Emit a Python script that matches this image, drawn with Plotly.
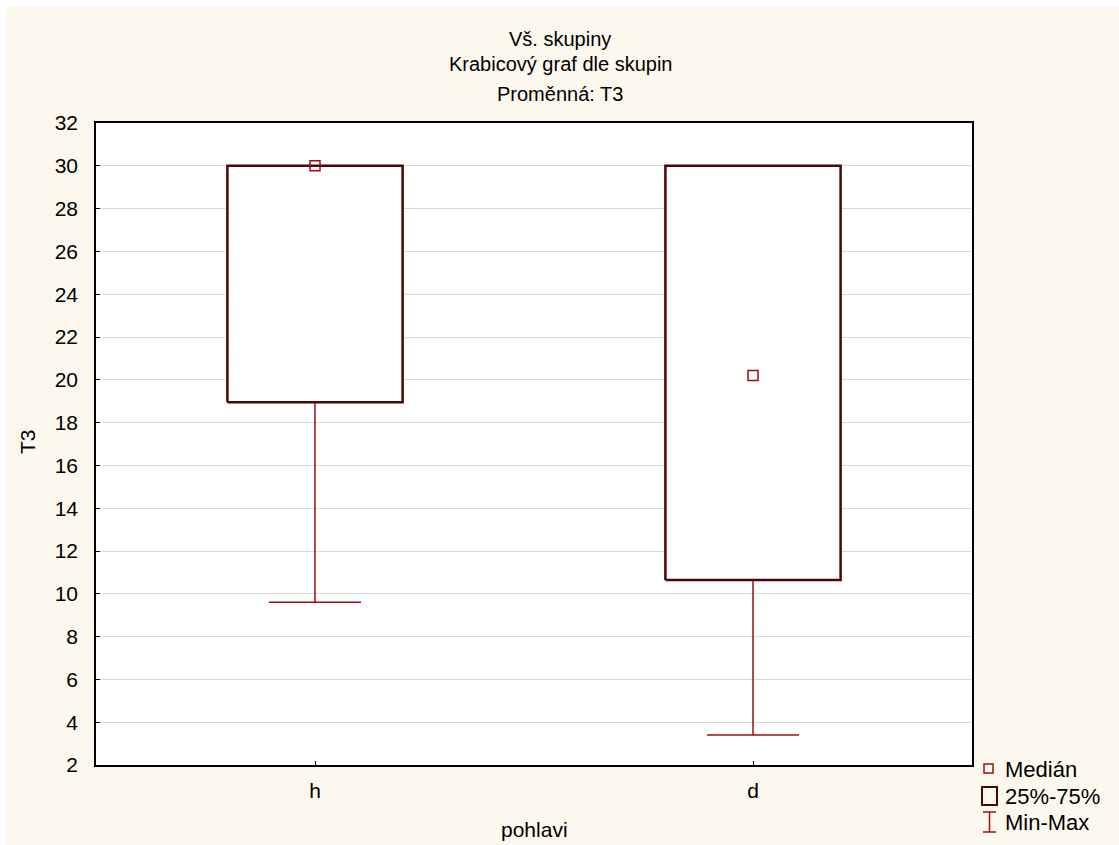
import plotly.graph_objects as go

categories = ["h", "d"]
q1 = [18.95, 10.65]
q3 = [30.0, 30.0]
median = [30.0, 20.2]
minimum = [9.6, 3.4]
maximum = [30.0, 30.0]

y_ticks = list(range(2, 33, 2))

BOX_DARK = "#4a0505"
RED = "#9a1010"
FONT = "Liberation Sans, Arial, sans-serif"
BOX_HALF = 0.2
CAP_HALF = 0.105

fig = go.Figure()

for i, c in enumerate(categories):
    # whiskers
    fig.add_trace(go.Scatter(
        x=[i, i, None, i - CAP_HALF, i + CAP_HALF, None, i, i, None, i - CAP_HALF, i + CAP_HALF],
        y=[q1[i], minimum[i], None, minimum[i], minimum[i], None, q3[i], maximum[i], None, maximum[i], maximum[i]],
        mode="lines", line=dict(color=RED, width=1.5), showlegend=False, hoverinfo="skip"))
    # box
    fig.add_trace(go.Scatter(
        x=[i - BOX_HALF, i + BOX_HALF, i + BOX_HALF, i - BOX_HALF, i - BOX_HALF],
        y=[q1[i], q1[i], q3[i], q3[i], q1[i]],
        mode="lines", fill="toself", fillcolor="white",
        line=dict(color=BOX_DARK, width=2.5), showlegend=False, hoverinfo="skip"))

fig.add_trace(go.Scatter(
    x=list(range(len(categories))), y=median, mode="markers",
    marker=dict(symbol="square-open", size=10, color=RED, line=dict(width=1.5, color=RED)),
    showlegend=False, hoverinfo="skip"))

fig.update_xaxes(
    range=[-0.5, 1.5], tickmode="array", tickvals=[0, 1], ticktext=categories,
    showgrid=False, zeroline=False, showline=True, linecolor="black", linewidth=1.5,
    mirror=True, ticks="inside", ticklen=4, tickcolor="black", ticklabelstandoff=6,
    tickfont=dict(family=FONT, size=21, color="black"))
fig.update_yaxes(
    range=[2, 32], tickmode="array", tickvals=y_ticks,
    showgrid=True, gridcolor="#d9d9d9", gridwidth=1, zeroline=False,
    showline=True, linecolor="black", linewidth=1.5, mirror=True,
    ticks="inside", ticklen=4, tickcolor="black", ticklabelstandoff=12,
    tickfont=dict(family=FONT, size=21, color="black"))

W, H = 1119, 845


def px(xp):
    return (xp - 96) / 876


def py(yp):
    return (765 - yp) / 642


ann = []
for txt, yy in [("Vš. skupiny", 39), ("Krabicový graf dle skupin", 64), ("Proměnná: T3", 94)]:
    ann.append(dict(text=txt, xref="paper", yref="paper", x=px(560), y=py(yy),
                    xanchor="center", yanchor="middle", showarrow=False,
                    font=dict(family=FONT, size=20, color="black")))
# axis titles
ann.append(dict(text="T3", xref="paper", yref="paper", x=px(27), y=py(442),
                textangle=-90, xanchor="center", yanchor="middle", showarrow=False,
                font=dict(family=FONT, size=21, color="black")))
ann.append(dict(text="pohlavi", xref="paper", yref="paper", x=px(534), y=py(829),
                xanchor="center", yanchor="middle", showarrow=False,
                font=dict(family=FONT, size=21, color="black")))
# legend labels
for txt, yy in [("Medián", 769), ("25%-75%", 796), ("Min-Max", 822)]:
    ann.append(dict(text=txt, xref="paper", yref="paper", x=px(1003), y=py(yy),
                    xanchor="left", yanchor="middle", showarrow=False,
                    font=dict(family=FONT, size=22, color="black")))

shapes = [
    # cream background inset
    dict(type="rect", xref="paper", yref="paper", x0=px(7), x1=px(1125), y0=py(7), y1=py(850),
         fillcolor="#fdf8ee", line=dict(width=0), layer="below"),
    # white plot area
    dict(type="rect", xref="paper", yref="paper", x0=0, x1=1, y0=0, y1=1,
         fillcolor="white", line=dict(width=0), layer="below"),
    # legend: median marker
    dict(type="rect", xref="paper", yref="paper", x0=px(984), x1=px(993), y0=py(764), y1=py(773),
         line=dict(color=RED, width=1.5), fillcolor="rgba(0,0,0,0)"),
    # legend: box
    dict(type="rect", xref="paper", yref="paper", x0=px(982), x1=px(997), y0=py(787), y1=py(805),
         line=dict(color=BOX_DARK, width=2), fillcolor="rgba(0,0,0,0)"),
    # legend: whisker
    dict(type="line", xref="paper", yref="paper", x0=px(989.5), x1=px(989.5), y0=py(812), y1=py(832),
         line=dict(color=RED, width=1.5)),
    dict(type="line", xref="paper", yref="paper", x0=px(983), x1=px(996), y0=py(812), y1=py(812),
         line=dict(color=RED, width=1.5)),
    dict(type="line", xref="paper", yref="paper", x0=px(983), x1=px(996), y0=py(832), y1=py(832),
         line=dict(color=RED, width=1.5)),
]

fig.update_layout(
    width=W, height=H,
    margin=dict(l=96, r=W - 972, t=123, b=H - 765),
    paper_bgcolor="white", plot_bgcolor="rgba(0,0,0,0)",
    showlegend=False, annotations=ann, shapes=shapes,
    font=dict(family=FONT, size=21, color="black"),
)

fig.write_html("out.html")
